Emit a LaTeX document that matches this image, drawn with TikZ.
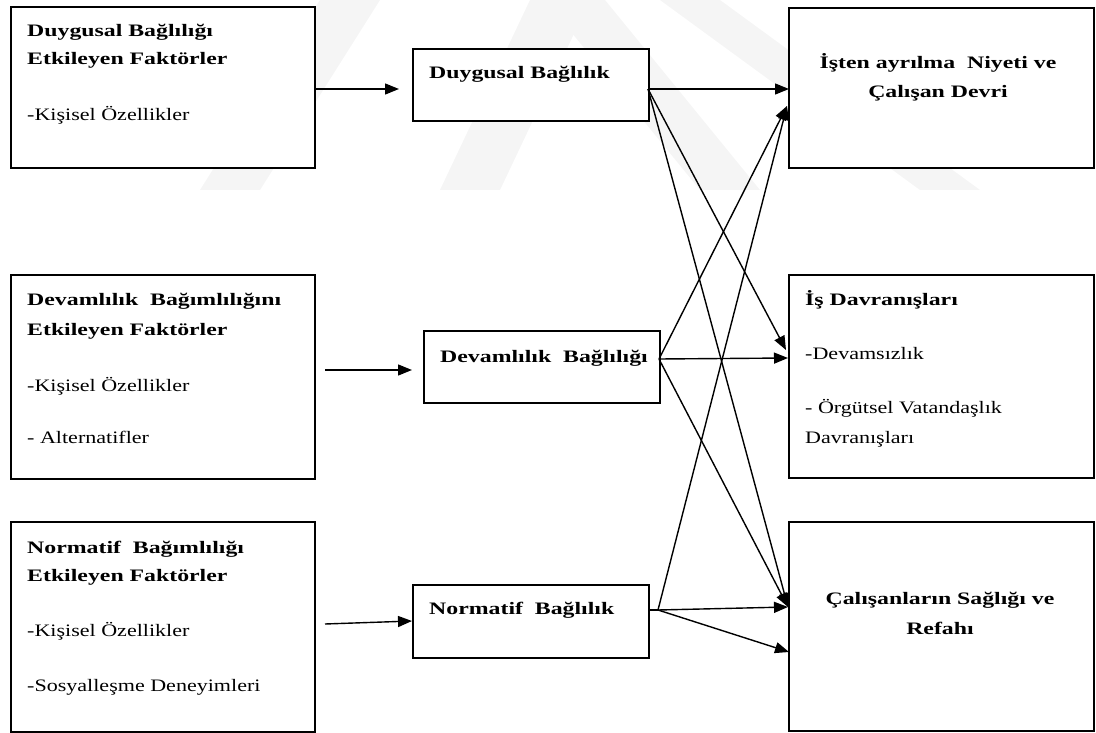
\documentclass[tikz,border=0pt]{standalone}
\usepackage{fontspec}
\setmainfont{Liberation Serif}[FakeStretch=1.26]
\newfontfamily\bff{Liberation Serif}[FakeStretch=1.36]
\usetikzlibrary{arrows.meta}
\tikzset{
  box/.style={draw=black, line width=1.6pt, fill=white, anchor=north west, inner sep=0pt},
  bt/.style={anchor=base west, inner sep=0pt, font=\fontsize{17.5}{20}\bff\bfseries},
  rt/.style={anchor=base west, inner sep=0pt, font=\fontsize{17.5}{20}\selectfont},
  bc/.style={anchor=base, inner sep=0pt, font=\fontsize{17.5}{20}\bff\bfseries},
  arr/.style={draw=black, line width=1.4pt, -{Triangle[length=14pt,width=11pt]}},
  stub/.style={draw=black, line width=1.4pt},
  wm/.style={fill=black!4, draw=none}
}
\begin{document}
\begin{tikzpicture}[x=1pt, y=-1pt]
\useasboundingbox (0,0) rectangle (1096,733);
% faint watermark bands
\fill[wm] (200,190) -- (260,190) -- (380,0) -- (320,0) -- cycle;
\fill[wm] (440,190) -- (500,190) -- (590,0) -- (530,0) -- cycle;
\fill[wm] (545,0) -- (605,0) -- (760,190) -- (700,190) -- cycle;
\fill[wm] (660,0) -- (720,0) -- (980,190) -- (920,190) -- cycle;

% boxes
\node[box, minimum width=304pt, minimum height=161pt] (L1) at (10,6) {};
\node[box, minimum width=304pt, minimum height=204pt] (L2) at (10,274) {};
\node[box, minimum width=304pt, minimum height=210pt] (L3) at (10,521) {};
\node[box, minimum width=236pt, minimum height=72pt] (M1) at (412,48) {};
\node[box, minimum width=236pt, minimum height=72pt] (M2) at (423,330) {};
\node[box, minimum width=236pt, minimum height=73pt] (M3) at (412,584) {};
\node[box, minimum width=305pt, minimum height=160pt] (R1) at (788,7) {};
\node[box, minimum width=305pt, minimum height=203pt] (R2) at (788,274) {};
\node[box, minimum width=305pt, minimum height=209pt] (R3) at (788,521) {};

% texts
\node[bt] (t1a) at (27,37) {Duygusal Bağlılığı};
\node[bt] (t1b) at (27,65) {Etkileyen Faktörler};
\node[rt] (t1c) at (27,121) {-Kişisel Özellikler};
\node[bt] (t2a) at (27,305) {Devamlılık\ \ Bağımlılığını};
\node[bt] (t2b) at (27,335) {Etkileyen Faktörler};
\node[rt] (t2c) at (27,391) {-Kişisel Özellikler};
\node[rt] (t2d) at (27,443) {- Alternatifler};
\node[bt] (t3a) at (27,553) {Normatif\ \ Bağımlılığı};
\node[bt] (t3b) at (27,581) {Etkileyen Faktörler};
\node[rt] (t3c) at (27,636) {-Kişisel Özellikler};
\node[rt] (t3d) at (27,691) {-Sosyalleşme Deneyimleri};
\node[bt] (tm1) at (429,79) {Duygusal Bağlılık};
\node[bt] (tm2) at (440,362) {Devamlılık\ \ Bağlılığı};
\node[bt] (tm3) at (429,614) {Normatif\ \ Bağlılık};
\node[bc] (tr1a) at (938,69) {İşten ayrılma\ \ Niyeti ve};
\node[bc] (tr1b) at (938,98) {Çalışan Devri};
\node[bt] (tr2a) at (805,305) {İş Davranışları};
\node[rt] (tr2b) at (805,359) {-Devamsızlık};
\node[rt] (tr2c) at (805,413) {- Örgütsel Vatandaşlık};
\node[rt] (tr2d) at (805,443) {Davranışları};
\node[bc] (tr3a) at (940,604) {Çalışanların Sağlığı ve};
\node[bc] (tr3b) at (940,634) {Refahı};

% connector end points
\coordinate (a1s) at (316,89);
\coordinate (a1e) at (399,89);
\coordinate (a2s) at (325,370);
\coordinate (a2e) at (412,370);
\coordinate (a3s) at (325,624);
\coordinate (a3e) at (412,621);
\coordinate (m1o) at (648,89);
\coordinate (m2o) at (659,359);
\coordinate (m3o) at (658,610);
\coordinate (r1a) at (789,89);
\coordinate (r1b) at (787,106);
\coordinate (r2a) at (786,350);
\coordinate (r2b) at (788,358);
\coordinate (r3a) at (788,607);
\coordinate (r3b) at (789,652);

% left to middle
\draw[arr] (a1s) -- (a1e);
\draw[arr] (a2s) -- (a2e);
\draw[arr] (a3s) -- (a3e);

% middle to right
\draw[stub] (M3.east |- m3o) -- (m3o);
\draw[arr] (m1o) -- (r1a);
\draw[arr] (m1o) -- (r2a);
\draw[arr] (m1o) -- (r3a);
\draw[arr] (m2o) -- (r1b);
\draw[arr] (m2o) -- (r2b);
\draw[arr] (m2o) -- (r3a);
\draw[arr] (m3o) -- (r1b);
\draw[arr] (m3o) -- (r3a);
\draw[arr] (m3o) -- (r3b);
\end{tikzpicture}
\end{document}
